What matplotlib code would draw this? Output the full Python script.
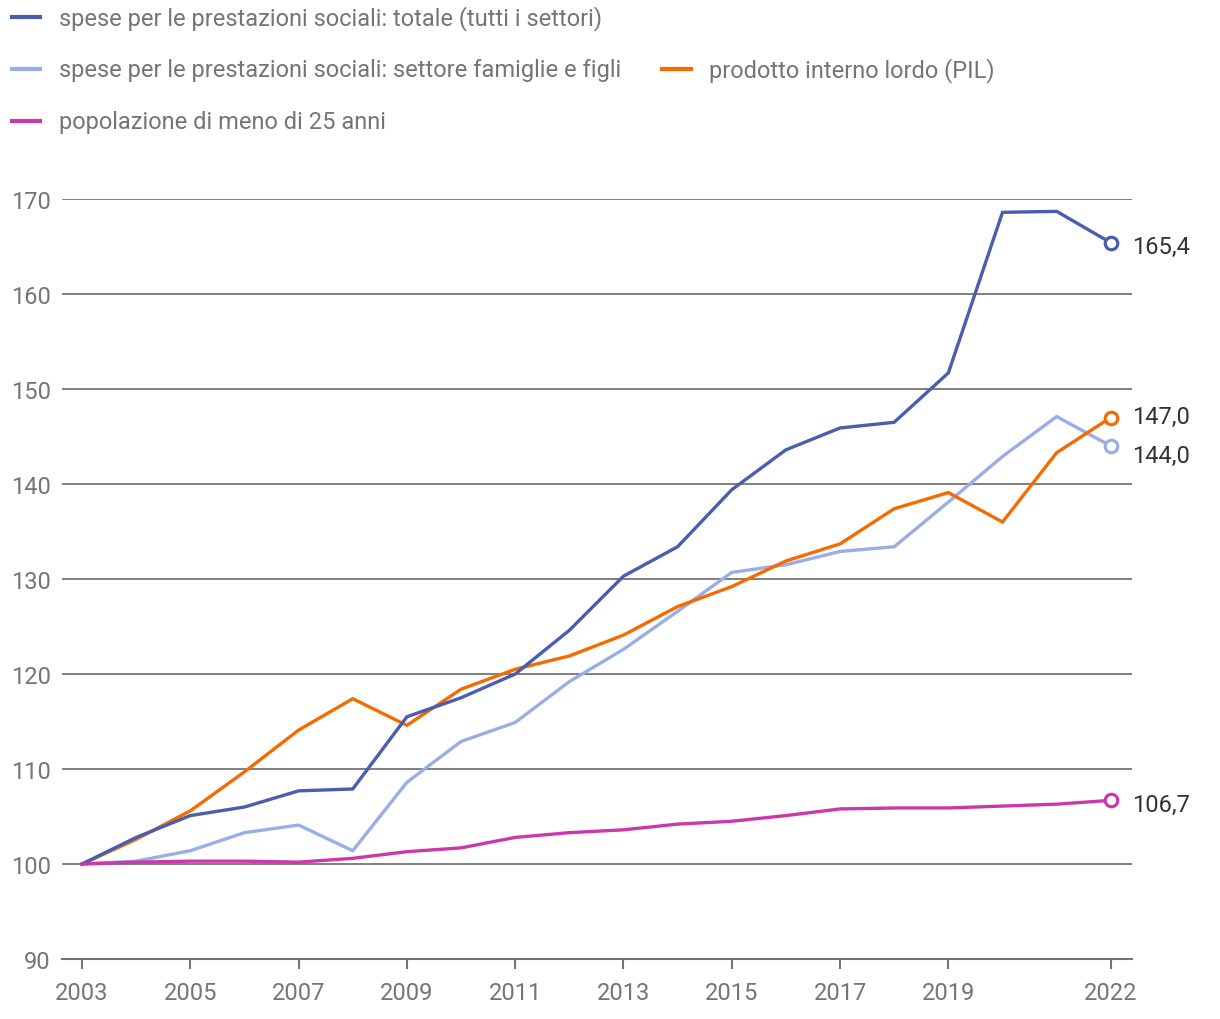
import matplotlib.pyplot as plt
from matplotlib.lines import Line2D

plt.rcParams['font.family'] = ['Roboto', 'DejaVu Sans']

# Dati (indice 2003 = 100)
anni = list(range(2003, 2023))
totale = [100, 102.8, 105.1, 106.0, 107.7, 107.9, 115.5, 117.5, 120.0, 124.6,
          130.3, 133.4, 139.4, 143.6, 145.9, 146.5, 151.7, 168.6, 168.7, 165.4]
famiglie = [100, 100.3, 101.4, 103.3, 104.1, 101.4, 108.6, 112.9, 114.9, 119.2,
            122.6, 126.6, 130.7, 131.5, 132.9, 133.4, 138.1, 142.9, 147.1, 144.0]
pil = [100, 102.6, 105.6, 109.7, 114.1, 117.4, 114.6, 118.4, 120.5, 121.9,
       124.1, 127.1, 129.2, 131.9, 133.7, 137.4, 139.1, 136.0, 143.3, 147.0]
giovani = [100, 100.2, 100.3, 100.3, 100.2, 100.6, 101.3, 101.7, 102.8, 103.3,
           103.6, 104.2, 104.5, 105.1, 105.8, 105.9, 105.9, 106.1, 106.3, 106.7]

etichette = ["spese per le prestazioni sociali: totale (tutti i settori)",
             "spese per le prestazioni sociali: settore famiglie e figli",
             "prodotto interno lordo (PIL)",
             "popolazione di meno di 25 anni"]
colori = ["#4a5db0", "#9aaee6", "#f56b00", "#cc38a9"]
serie = [totale, famiglie, pil, giovani]
# spostamento verticale delle etichette finali (punti)
offset_lab = {0: -3, 1: -7, 2: 1, 3: -3}

tick_anni = [2003, 2005, 2007, 2009, 2011, 2013, 2015, 2017, 2019, 2022]
grigio = "#757575"
fs = 17

fig = plt.figure(figsize=(12.2, 10.2), dpi=100)
ax = fig.add_axes([0.0508, 0.0588, 0.8770, 0.7451])

for y in range(100, 171, 10):
    ax.axhline(y, color=grigio, lw=1.3, zorder=1)

ordine = [1, 2, 0, 3]
for i in ordine:
    ax.plot(anni, serie[i], color=colori[i], lw=2.4, zorder=3,
            solid_joinstyle="miter", clip_on=False)
    ax.plot(anni[-1], serie[i][-1], "o", ms=9, mfc="white", mec=colori[i],
            mew=2.3, zorder=4, clip_on=False)
    ax.annotate(f"{serie[i][-1]:.1f}".replace(".", ","),
                (anni[-1], serie[i][-1]), xytext=(15, offset_lab[i]),
                textcoords="offset points", va="center", ha="left",
                fontsize=fs, color="#333333")

ax.set_xlim(2002.63, 2022.39)
ax.set_ylim(90, 170)
ax.set_yticks(range(90, 171, 10))
ax.set_xticks(tick_anni)
for s in ["top", "right", "left"]:
    ax.spines[s].set_visible(False)
ax.spines["bottom"].set_color(grigio)
ax.spines["bottom"].set_linewidth(1.5)
ax.tick_params(axis="y", length=0, labelsize=fs, labelcolor=grigio, pad=8)
ax.tick_params(axis="x", length=7, width=1.5, color=grigio, labelsize=fs,
               labelcolor=grigio, pad=9)

# Legenda
pos_leg = [(0.010, 0.982), (0.010, 0.931), (0.543, 0.931), (0.010, 0.880)]
for i, (x, y) in enumerate(pos_leg):
    fig.add_artist(Line2D([x, x + 0.023], [y, y], color=colori[i], lw=3,
                          transform=fig.transFigure))
    fig.text(x + 0.038, y, etichette[i], va="center", ha="left",
             fontsize=fs, color=grigio)

fig.savefig("out.png", dpi=100)
